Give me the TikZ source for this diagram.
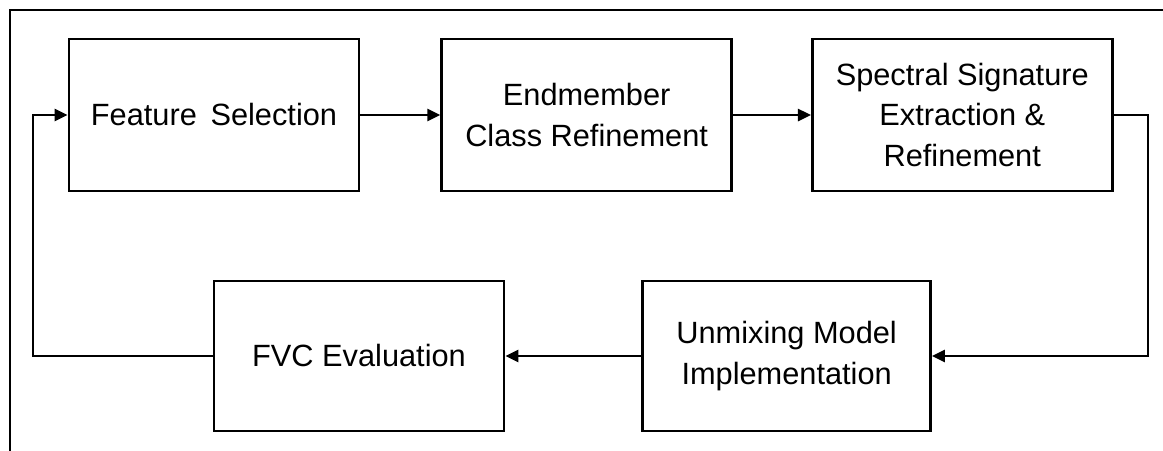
\documentclass[tikz,border=0pt]{standalone}
\usepackage{fontspec}
\setmainfont{Liberation Sans}
\usepackage{tikz}
\usetikzlibrary{
  arrows.meta,
  positioning,
  calc
}
\tikzset{
  stagebox/.style={
    draw, line width=1.5pt, minimum height=3.04cm, minimum width=5.8cm,
    font=\fontsize{17.5}{23}\selectfont, align=center, inner sep=2pt
  },
  flow/.style={-{Triangle[length=2.6mm, width=2.4mm]}, line width=1.5pt},
  framelines/.style={line width=1.3pt}
}

\begin{document}
\begin{tikzpicture}[node distance=1.6cm]
  \useasboundingbox (0,0) rectangle (23.26,-9);
  % frame (only top and left edges visible)
  \draw[framelines] (0.2,-9.1) -- (0.2,-0.2) -- (23.4,-0.2);

  % top row
  \node[stagebox] (feat) at (4.28,-2.3) {Feature\, Selection};
  \node[stagebox, right=of feat] (endm) {Endmember\\Class Refinement};
  \node[stagebox, minimum width=6cm, right=1.56cm of endm] (spec) {Spectral Signature\\Extraction \&\\Refinement};

  % bottom row
  \node[stagebox, minimum height=3cm] (fvc) at (7.18,-7.12) {FVC Evaluation};
  \node[stagebox, minimum height=3cm, minimum width=5.76cm, right=2.72cm of fvc] (unmix) {Unmixing Model\\Implementation};

  % loop corners
  \coordinate (loopR) at (22.96,-7.12);
  \coordinate (loopL) at (0.66,-7.12);

  \draw[flow] (feat) -- (endm);
  \draw[flow] (endm) -- (spec);
  \draw[flow] (spec.east) -| (loopR) -- (unmix.east);
  \draw[flow] (unmix) -- (fvc);
  \draw[flow] (fvc.west) -- (loopL) |- (feat.west);
\end{tikzpicture}
\end{document}
